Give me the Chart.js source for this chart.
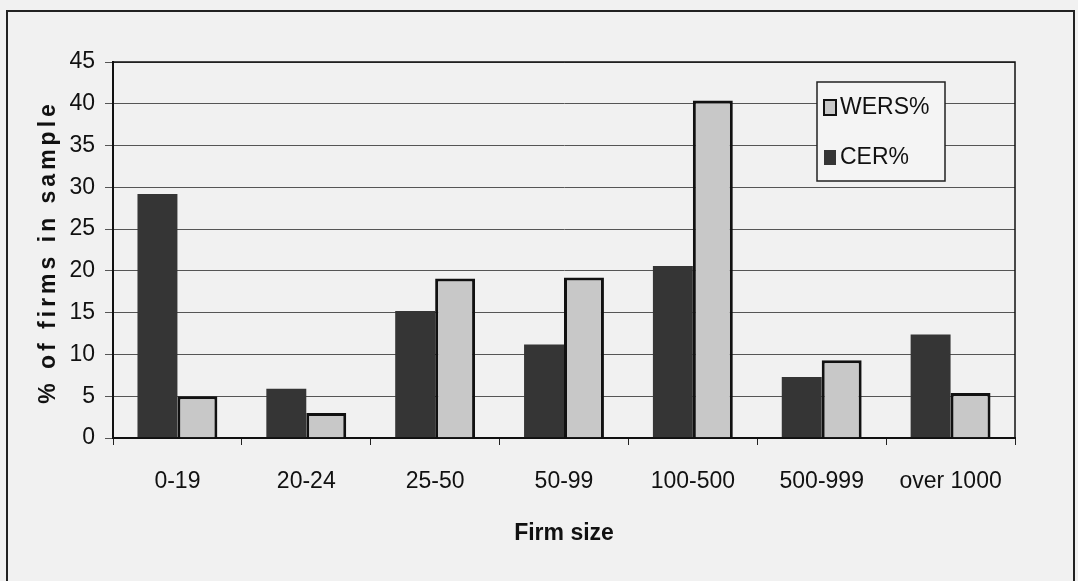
<!DOCTYPE html>
<html>
<head>
<meta charset="utf-8">
<script src="https://cdn.jsdelivr.net/npm/chart.js@4/dist/chart.umd.min.js"></script>
<style>
  html, body { margin: 0; padding: 0; background: #f1f1f1; }
  #wrap { position: relative; width: 1078px; height: 581px; }
  #frame { position: absolute; left: 6px; top: 10px; width: 1069px; height: 600px;
           border: 2px solid #222; box-sizing: border-box; pointer-events: none; }
  canvas { position: absolute; left: 0; top: 0; }
</style>
</head>
<body>
<div id="wrap">
  <canvas id="grafico" width="1078" height="581"></canvas>
  <div id="frame"></div>
</div>
<script>
// === DADOS ===
const categorias = ['0-19', '20-24', '25-50', '50-99', '100-500', '500-999', 'over 1000'];
const cer = [29.2, 5.9, 15.2, 11.2, 20.6, 7.3, 12.4];
const wers = [5, 3, 19.1, 19.2, 40.4, 9.3, 5.4];
const yTicks = [0, 5, 10, 15, 20, 25, 30, 35, 40, 45];

const fonte = '"Liberation Sans", Arial, sans-serif';

// moldura do plot + legenda + titulo do eixo y (com espaçamento de letras)
const extras = {
  id: 'extras',
  afterDraw(chart) {
    const { ctx, chartArea: a } = chart;
    ctx.save();
    // borda da area do grafico
    ctx.strokeStyle = '#111';
    ctx.lineWidth = 1.5;
    ctx.strokeRect(a.left, a.top, a.right - a.left, a.bottom - a.top);

    // legenda (WERS em cima, CER embaixo)
    const lx = 817, ly = 82, lw = 128, lh = 99;
    ctx.fillStyle = '#f4f4f4';
    ctx.fillRect(lx, ly, lw, lh);
    ctx.lineWidth = 1.5;
    ctx.strokeStyle = '#222';
    ctx.strokeRect(lx, ly, lw, lh);
    const itens = chart.data.datasets.slice().reverse();
    ctx.font = '23px ' + fonte;
    ctx.textBaseline = 'middle';
    itens.forEach((ds, i) => {
      const cy = ly + 25 + i * 50;
      ctx.fillStyle = ds.backgroundColor;
      ctx.fillRect(lx + 7, cy - 7, 12, 15);
      if (ds.borderWidth) {
        ctx.lineWidth = 2;
        ctx.strokeStyle = ds.borderColor;
        ctx.strokeRect(lx + 7, cy - 7, 12, 15);
      }
      ctx.fillStyle = '#111';
      ctx.fillText(ds.label, lx + 23, cy + 1);
    });

    // titulo eixo y
    ctx.translate(49, 252);
    ctx.rotate(-Math.PI / 2);
    ctx.font = 'bold 23px ' + fonte;
    ctx.letterSpacing = '4px';
    ctx.textAlign = 'center';
    ctx.textBaseline = 'middle';
    ctx.fillStyle = '#111';
    ctx.fillText('% of firms in sample', 0, 0);
    ctx.restore();
  }
};

const ctxGrafico = document.getElementById('grafico');

new Chart(ctxGrafico, {
  type: 'bar',
  data: {
    labels: categorias,
    datasets: [
      {
        label: 'CER%',
        data: cer,
        backgroundColor: '#353535',
        borderWidth: 0
      },
      {
        label: 'WERS%',
        data: wers,
        backgroundColor: '#c8c8c8',
        borderColor: '#111',
        borderWidth: 3,
        borderSkipped: 'bottom'
      }
    ]
  },
  options: {
    responsive: false,
    animation: false,
    layout: { padding: { left: 0, top: 62, right: 63, bottom: 0 } },
    categoryPercentage: 0.62,
    barPercentage: 1,
    plugins: {
      legend: { display: false },
      tooltip: { enabled: false }
    },
    scales: {
      x: {
        grid: {
          offset: true,
          drawOnChartArea: false,
          tickLength: 7,
          color: '#222'
        },
        border: { color: '#111', width: 2 },
        ticks: {
          color: '#111',
          padding: 23,
          font: { family: fonte, size: 23 }
        },
        title: {
          display: true,
          text: 'Firm size',
          color: '#111',
          padding: { top: 4, bottom: 34 },
          font: { family: fonte, size: 23, weight: 'bold' }
        },
        afterFit(scale) { scale.height = 143; }
      },
      y: {
        min: 0,
        max: 45,
        afterBuildTicks(scale) { scale.ticks = yTicks.map(v => ({ value: v })); },
        grid: {
          color: '#555',
          lineWidth: 1,
          tickLength: 8
        },
        border: { color: '#111', width: 2 },
        ticks: {
          color: '#111',
          padding: 10,
          font: { family: fonte, size: 23 }
        },
        afterFit(scale) { scale.width = 113; }
      }
    }
  },
  plugins: [extras]
});
</script>
</body>
</html>
